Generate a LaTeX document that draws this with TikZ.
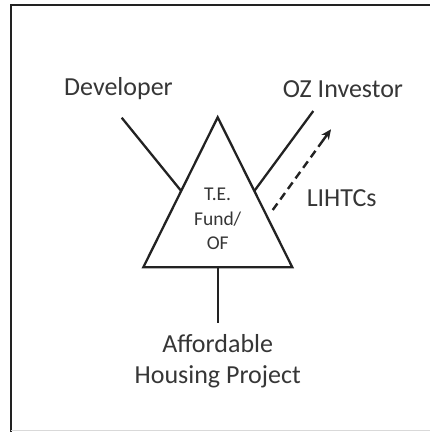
\documentclass[tikz,border=0pt]{standalone}
\usepackage{fontspec}
\setmainfont{Carlito}
\usetikzlibrary{arrows.meta,calc}
\definecolor{ink}{HTML}{222222}
\definecolor{txt}{HTML}{363636}
\tikzset{
    party/.style={text=txt, font=\fontsize{26}{31}\selectfont, align=center, inner sep=0pt},
    fundtext/.style={text=txt, font=\fontsize{19.5}{24.5}\selectfont, align=center, inner sep=0pt},
    link/.style={draw=ink, line width=2.3pt}
}
\begin{document}
\begin{tikzpicture}[x=1pt, y=-1pt, >={Stealth[length=10pt,width=9pt]}]
    \useasboundingbox (0,0) rectangle (430,432);
    % frame
    \draw[ink, line width=2.2pt] (11,432)--(11,4.8)--(430,4.8);
    \draw[black!15, line width=0.8pt] (11,430.8)--(430,430.8);
    % the fund
    \coordinate (apex) at (217.7,117.3);
    \coordinate (bl) at (143.3,267.3);
    \coordinate (br) at (292.3,267.3);
    \coordinate (bm) at (217.7,267.3);
    \draw[link, line join=miter] (apex)--(bl)--(br)--cycle;
    \node[fundtext] (fund) at (217.7,219) {T.E.\\Fund/\\OF};
    % parties round it
    \node[party] (dev) at (118.5,89) {Developer};
    \node[party] (oz) at (343,89.5) {OZ Investor};
    \node[party] (lihtc) at (341.7,198) {LIHTCs};
    \node[party] (ahp) at (217.7,361) {Affordable\\Housing Project};
    \coordinate (devend) at (121.7,117.7);
    \coordinate (devhit) at ($(apex)!0.491!(bl)$);
    \coordinate (ozend) at (313.3,111);
    \coordinate (ozhit) at ($(apex)!0.491!(br)$);
    \coordinate (ahpend) at (217.7,322.7);
    \coordinate (taxfrom) at (272.7,210);
    \coordinate (taxto) at (331,129.3);
    \draw[link] (devend)--(devhit);
    \draw[link] (ozend)--(ozhit);
    \draw[link] (bm)--(ahpend);
    % tax credits go out dashed
    \draw[link, line width=2.4pt, dash pattern=on 8pt off 5pt] (taxfrom)--($(taxfrom)!0.88!(taxto)$);
    \draw[link, line width=2.4pt, ->] ($(taxfrom)!0.86!(taxto)$)--(taxto);
\end{tikzpicture}
\end{document}
